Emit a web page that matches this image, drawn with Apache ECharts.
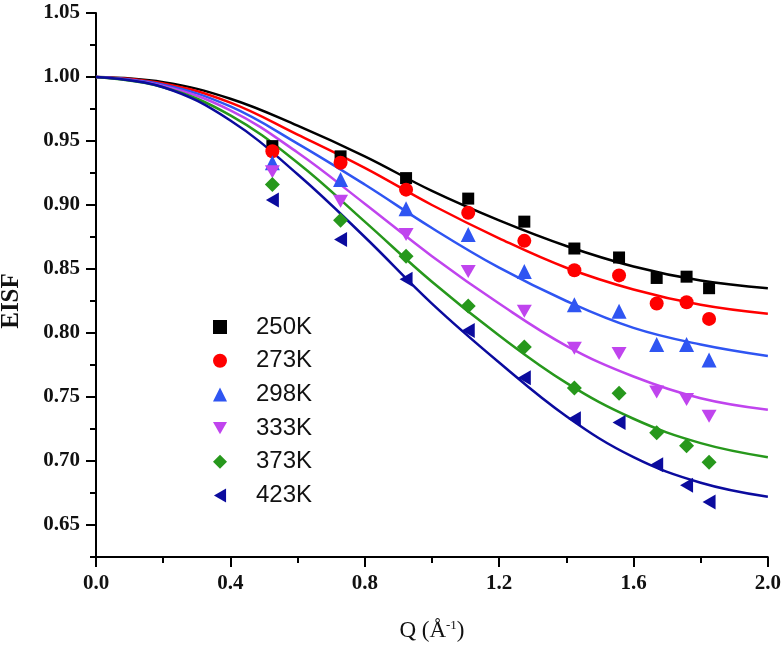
<!DOCTYPE html>
<html>
<head>
<meta charset="utf-8">
<script src="https://cdn.jsdelivr.net/npm/echarts@6/dist/echarts.min.js"></script>
<style>
  html, body { margin: 0; padding: 0; background: #fff; }
  #container { width: 784px; height: 647px; }
</style>
</head>
<body>
<div id="container"></div>
<script>
// 拟合曲线的 Q 取样点
var curveQ = [0, 0.2, 0.4, 0.6, 0.8, 1.0, 1.2, 1.4, 1.6, 1.8, 2.0];
var fit250 = [1.000, 0.996, 0.983, 0.962, 0.938, 0.911, 0.888, 0.868, 0.852, 0.841, 0.835];
var fit273 = [1.000, 0.995, 0.980, 0.955, 0.929, 0.900, 0.874, 0.851, 0.834, 0.822, 0.815];
var fit298 = [1.000, 0.994, 0.977, 0.948, 0.916, 0.882, 0.851, 0.825, 0.804, 0.791, 0.782];
var fit333 = [1.000, 0.993, 0.974, 0.941, 0.901, 0.860, 0.823, 0.790, 0.766, 0.749, 0.740];
var fit373 = [1.000, 0.992, 0.970, 0.933, 0.887, 0.840, 0.798, 0.761, 0.733, 0.714, 0.703];
var fit423 = [1.000, 0.992, 0.966, 0.924, 0.875, 0.823, 0.777, 0.735, 0.703, 0.683, 0.672];

// 实验点
var expQ = [0.525, 0.728, 0.923, 1.108, 1.275, 1.424, 1.557, 1.669, 1.758, 1.825];
var exp250 = [0.946, 0.938, 0.921, 0.905, 0.887, 0.866, 0.859, 0.843, 0.844, 0.835];
var exp273 = [0.942, 0.933, 0.912, 0.894, 0.872, 0.849, 0.845, 0.823, 0.824, 0.811];
var exp298 = [0.933, 0.920, 0.897, 0.877, 0.848, 0.822, 0.817, 0.791, 0.791, 0.779];
var exp333 = [0.926, 0.903, 0.877, 0.848, 0.817, 0.788, 0.784, 0.754, 0.748, 0.735];
var exp373 = [0.916, 0.888, 0.860, 0.821, 0.789, 0.757, 0.753, 0.722, 0.712, 0.699];
var exp423 = [0.904, 0.873, 0.842, 0.802, 0.765, 0.733, 0.730, 0.697, 0.681, 0.668];

var temps = ['250K', '273K', '298K', '333K', '373K', '423K'];
var yMajor = [0.65, 0.70, 0.75, 0.80, 0.85, 0.90, 0.95, 1.00, 1.05];
var yMinor = [0.625, 0.675, 0.725, 0.775, 0.825, 0.875, 0.925, 0.975, 1.025];

var fits = [fit250, fit273, fit298, fit333, fit373, fit423];
var exps = [exp250, exp273, exp298, exp333, exp373, exp423];
var colors = ['#000000', '#ff0000', '#2f55f2', '#c044ee', '#27981c', '#0b0b9e'];
// 下三角、左三角用 path，图例会跟着用
var downTri = 'path://M0,0L2,0L1,1.73Z';
var leftTri = 'path://M1.73,0L1.73,2L0,1Z';
var symbols = ['rect', 'circle', 'triangle', downTri, 'diamond', leftTri];
var sizes = [12, 14, 15, [15, 13], 15, [13, 15]];

function pairs(xs, ys) {
	var out = [];
	for (var i = 0; i < xs.length; i++) out.push([xs[i], ys[i]]);
	return out;
}

var series = [];
for (var i = 0; i < temps.length; i++) {
	series.push({
		name: temps[i] + ' fit',
		type: 'line',
		smooth: 0.4,
		showSymbol: false,
		silent: true,
		z: 2,
		lineStyle: { color: colors[i], width: 2.5 },
		data: pairs(curveQ, fits[i])
	});
}
for (var j = 0; j < temps.length; j++) {
	series.push({
		name: temps[j],
		type: 'scatter',
		symbol: symbols[j],
		symbolSize: sizes[j],
		z: 3,
		itemStyle: { color: colors[j], opacity: 1 },
		data: pairs(expQ, exps[j])
	});
}

var serif = 'Liberation Serif, Times New Roman, serif';
var myChart = echarts.init(document.getElementById('container'));

myChart.setOption({
	animation: false,
	color: colors,
	grid: { left: 96, right: 16, top: 13, bottom: 90 },
	legend: {
		data: temps,
		orient: 'vertical',
		left: 208,
		top: 310,
		itemWidth: 14,
		itemHeight: 14,
		itemGap: 9.7,
		textStyle: {
			fontFamily: 'Liberation Sans, Arial, sans-serif',
			fontSize: 24,
			lineHeight: 22,
			color: '#111',
			padding: [0, 0, 0, 24]
		}
	},
	xAxis: {
		type: 'value',
		min: 0,
		max: 2,
		interval: 0.4,
		name: 'Q (Å{sup|-1})',
		nameLocation: 'middle',
		nameGap: 62,
		nameTextStyle: {
			fontFamily: serif,
			fontSize: 23,
			color: '#111',
			rich: { sup: { fontFamily: serif, fontSize: 13, verticalAlign: 'top', padding: [0, 0, 10, 0] } }
		},
		axisLine: { show: true, onZero: false, lineStyle: { color: '#000', width: 2 } },
		axisTick: { show: true, inside: false, length: 10, lineStyle: { color: '#000', width: 2 } },
		minorTick: { show: true, splitNumber: 2, length: 6, lineStyle: { color: '#000', width: 2 } },
		axisLabel: {
			margin: 16,
			fontFamily: serif,
			fontWeight: 'bold',
			fontSize: 21,
			color: '#111',
			formatter: function (v) { return v.toFixed(1); }
		},
		splitLine: { show: false }
	},
	yAxis: [{
		type: 'value',
		min: 0.625,
		max: 1.05,
		position: 'left',
		axisLine: { show: true, onZero: false, lineStyle: { color: '#000', width: 2 } },
		axisTick: { show: true, inside: false, length: 10, customValues: yMajor, lineStyle: { color: '#000', width: 2 } },
		axisLabel: {
			customValues: yMajor,
			margin: 16,
			fontFamily: serif,
			fontWeight: 'bold',
			fontSize: 21,
			color: '#111',
			formatter: function (v) { return v.toFixed(2); }
		},
		splitLine: { show: false }
	}, {
		type: 'value',
		min: 0.625,
		max: 1.05,
		position: 'left',
		offset: 0,
		axisLine: { show: false },
		axisTick: { show: true, inside: false, length: 6, customValues: yMinor, lineStyle: { color: '#000', width: 2 } },
		axisLabel: { show: false },
		splitLine: { show: false }
	}],
	graphic: [{
		type: 'text',
		x: 12,
		y: 301,
		rotation: Math.PI / 2,
		style: {
			text: 'EISF',
			font: 'bold 25px ' + serif,
			fill: '#111',
			align: 'center',
			verticalAlign: 'middle'
		}
	}],
	series: series
});
</script>
</body>
</html>
